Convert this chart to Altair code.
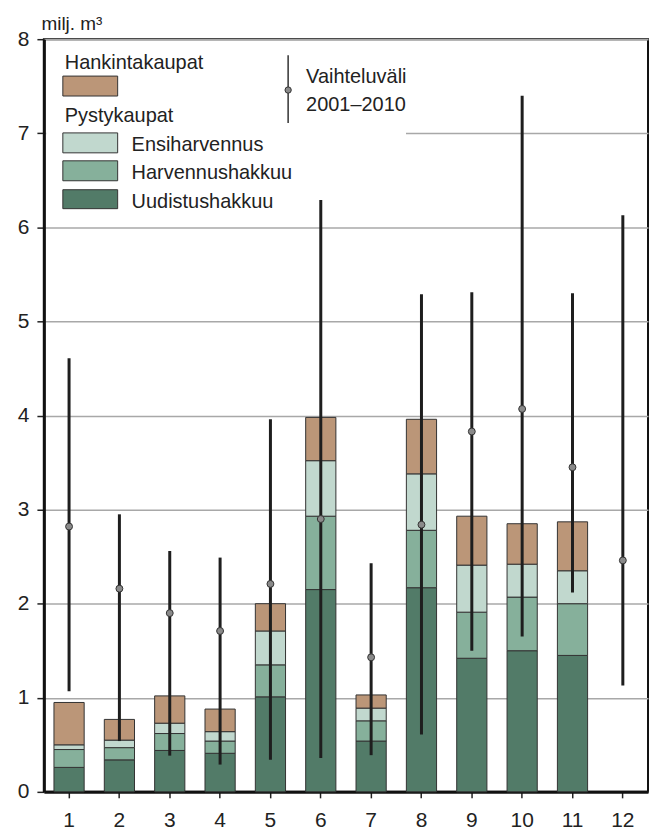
import altair as alt
import pandas as pd

months = [str(m) for m in range(1, 13)]
bar_months = months[:11]
uudistus = [0.26, 0.34, 0.44, 0.41, 1.01, 2.15, 0.54, 2.17, 1.42, 1.50, 1.45]
harvennus = [0.19, 0.13, 0.18, 0.13, 0.34, 0.78, 0.215, 0.61, 0.49, 0.57, 0.55]
ensiharvennus = [0.05, 0.08, 0.11, 0.10, 0.36, 0.59, 0.135, 0.60, 0.50, 0.35, 0.35]
hankinta = [0.45, 0.22, 0.29, 0.24, 0.29, 0.46, 0.14, 0.58, 0.52, 0.43, 0.52]

range_min = [1.07, 0.54, 0.385, 0.29, 0.34, 0.36, 0.39, 0.61, 1.50, 1.65, 2.12, 1.13]
range_max = [4.61, 2.95, 2.56, 2.49, 3.96, 6.29, 2.43, 5.29, 5.31, 7.40, 5.30, 6.13]
range_mean = [2.82, 2.16, 1.90, 1.71, 2.21, 2.90, 1.43, 2.84, 3.83, 4.07, 3.45, 2.46]

series = ["Uudistushakkuu", "Harvennushakkuu", "Ensiharvennus", "Hankintakaupat"]
colors = ["#527b68", "#86b09b", "#c1d8ce", "#bb9678"]

rows = []
for i, m in enumerate(bar_months):
    for k, (name, vals) in enumerate(zip(series, [uudistus, harvennus, ensiharvennus, hankinta])):
        rows.append({"kk": m, "sarja": name, "arvo": vals[i], "ord": k})
bars_df = pd.DataFrame(rows)
range_df = pd.DataFrame({"kk": months, "min": range_min, "max": range_max, "mean": range_mean})

FONT = "Liberation Sans Narrow, Arial Narrow, Liberation Sans, sans-serif"
W, H = 606, 755

xenc = alt.X("kk:O", sort=months,
             scale=alt.Scale(paddingInner=0.4, paddingOuter=0.2),
             axis=alt.Axis(title=None, labelAngle=0, labelFontSize=21, labelPadding=12,
                           tickSize=6, tickColor="#222", tickWidth=1.5,
                           domainColor="#111", domainWidth=3, grid=False))
yscale = alt.Scale(domain=[0, 8], nice=False)

bars = alt.Chart(bars_df).mark_bar(stroke="#333", strokeWidth=1).encode(
    x=xenc,
    y=alt.Y("sum(arvo):Q", scale=yscale,
            axis=alt.Axis(title="milj. m³", titleAngle=0, titleAlign="left",
                          titleBaseline="alphabetic", titleX=-3, titleY=-10,
                          titleFontSize=19, titleFontWeight="normal",
                          values=list(range(0, 9)), format="d",
                          labelFontSize=21, labelPadding=8,
                          tickSize=7, tickColor="#222", tickWidth=1.5,
                          domainColor="#111", domainWidth=3,
                          grid=True, gridColor="#a8a8a8", gridWidth=1.5)),
    color=alt.Color("sarja:N", scale=alt.Scale(domain=series, range=colors), legend=None),
    order=alt.Order("ord:Q"),
)

mask = alt.Chart(range_df).mark_rect(color="white").encode(
    x=alt.value(3), x2=alt.value(363), y=alt.value(88), y2=alt.value(100))

rules = alt.Chart(range_df).mark_rule(color="#1e1e1e", strokeWidth=3).encode(
    x=alt.X("kk:O", sort=months), y=alt.Y("min:Q", scale=yscale), y2="max:Q")
dots = alt.Chart(range_df).mark_point(filled=True, fill="#8a8a8a", stroke="#333",
                                      strokeWidth=1, size=48, opacity=1).encode(
    x=alt.X("kk:O", sort=months), y=alt.Y("mean:Q", scale=yscale))

# legend
leg_df = pd.DataFrame({"d": [0]})
def sw(x1, y1, x2, y2, c):
    return alt.Chart(leg_df).mark_rect(fill=c, stroke="#333", strokeWidth=1).encode(
        x=alt.value(x1), x2=alt.value(x2), y=alt.value(y1), y2=alt.value(y2))
def tx(x, y, t):
    return alt.Chart(leg_df).mark_text(text=t, align="left", baseline="alphabetic",
                                       fontSize=20, font=FONT, color="#222").encode(
        x=alt.value(x), y=alt.value(y))

legend = [
    tx(21, 30, "Hankintakaupat"),
    sw(19, 37, 74, 57, colors[3]),
    tx(21, 83, "Pystykaupat"),
    sw(19, 94, 74, 114, colors[2]), tx(88, 112, "Ensiharvennus"),
    sw(19, 122, 74, 142, colors[1]), tx(88, 140, "Harvennushakkuu"),
    sw(19, 151, 74, 170, colors[0]), tx(88, 169, "Uudistushakkuu"),
    alt.Chart(leg_df).mark_rule(color="#333", strokeWidth=1.5).encode(
        x=alt.value(245), y=alt.value(16), y2=alt.value(84)),
    alt.Chart(leg_df).mark_point(filled=True, fill="#8a8a8a", stroke="#333",
                                 strokeWidth=1, size=40, opacity=1).encode(
        x=alt.value(245), y=alt.value(51)),
    tx(263, 44, "Vaihteluväli"),
    tx(263, 72, "2001–2010"),
]

chart = alt.layer(bars, mask, rules, dots, *legend).properties(
    width=W, height=H,
    autosize=alt.AutoSizeParams(type="none"),
    padding={"left": 36, "top": 30, "right": 4, "bottom": 46},
).configure_view(stroke="#111", strokeWidth=2).configure_axis(
    labelFont=FONT, titleFont=FONT, labelColor="#222", titleColor="#222"
)

chart.save("out.html", embed_options={"renderer": "svg", "actions": False})
